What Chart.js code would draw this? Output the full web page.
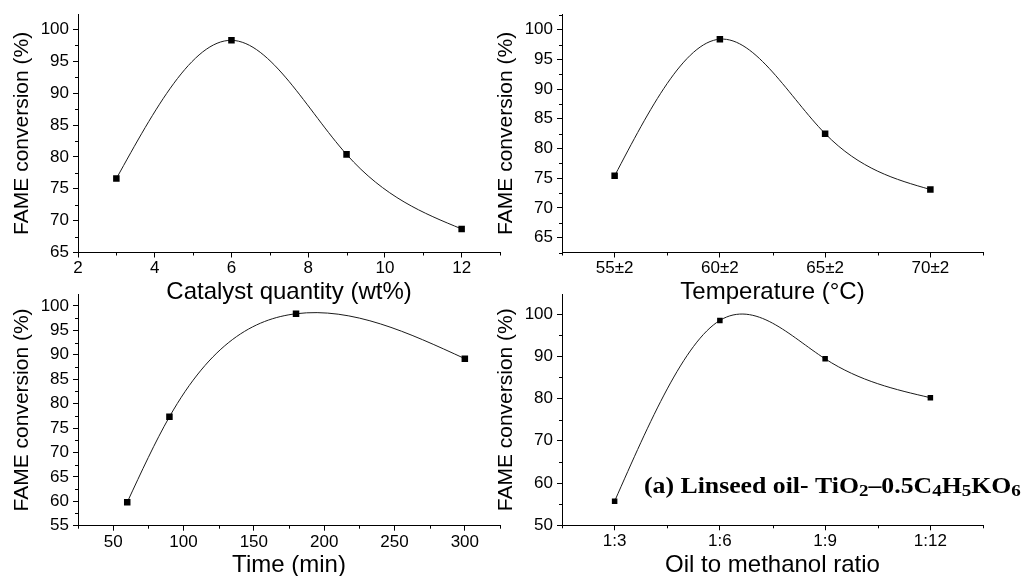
<!DOCTYPE html>
<html>
<head>
<meta charset="utf-8">
<script src="https://cdn.jsdelivr.net/npm/chart.js@4.4.1/dist/chart.umd.min.js"></script>
<style>
  body { margin: 0; background: #fff; }
  #wrap { position: relative; width: 1022px; height: 576px; overflow: hidden; }
  canvas { position: absolute; }
</style>
</head>
<body>
<div id="wrap">
  <canvas id="catalystChart" width="511" height="310" style="left:0;top:0"></canvas>
  <canvas id="tempChart" width="532" height="310" style="left:490px;top:0"></canvas>
  <canvas id="timeChart" width="511" height="296" style="left:0;top:280px"></canvas>
  <canvas id="ratioChart" width="532" height="296" style="left:490px;top:280px"></canvas>
</div>
<script>
// catalyst loading
const catalystQty = [3, 6, 9, 12];
const catalystFame = [76.6, 98.3, 80.4, 68.7];

// reaction temperature
const tempLabels = ["55±2", "60±2", "65±2", "70±2"];
const tempFame = [75.4, 98.4, 82.5, 73.1];

// reaction time
const timeMin = [60, 90, 180, 300];
const timeFame = [59.8, 77.3, 98.4, 89.2];

// oil to methanol molar ratio
const ratioLabels = ["1:3", "1:6", "1:9", "1:12"];
const ratioFame = [55.7, 98.5, 89.4, 80.2];

const yTitle = "FAME conversion (%)";
const sans = "'Liberation Sans', Arial, sans-serif";

// short outward ticks between the labelled ones
const minorTicks = {
  id: "minorTicks",
  afterDraw(chart, args, opts) {
    const ctx = chart.ctx;
    const area = chart.chartArea;
    ctx.save();
    ctx.strokeStyle = "#000";
    ctx.lineWidth = 1;
    ctx.beginPath();
    ["x", "y"].forEach(function (id) {
      const scale = chart.scales[id];
      const step = opts[id];
      if (!step) return;
      const majors = scale.ticks.map((t) => t.value);
      for (let v = Math.ceil(scale.min / step - 1e-9) * step; v <= scale.max + 1e-9; v += step) {
        if (majors.some((m) => Math.abs(m - v) < 1e-6)) continue;
        const p = Math.round(scale.getPixelForValue(v)) + 0.5;
        if (id === "x") {
          ctx.moveTo(p, area.bottom);
          ctx.lineTo(p, area.bottom + 3);
        } else {
          ctx.moveTo(area.left, p);
          ctx.lineTo(area.left - 3, p);
        }
      }
    });
    ctx.stroke();
    ctx.restore();
  },
};

// replace the default bezier handles with a natural cubic spline through the points
const naturalSpline = {
  id: "naturalSpline",
  beforeDatasetDraw(chart, args) {
    const line = args.meta.dataset;
    const pts = args.meta.data;
    if (!line || pts.length < 3) return;
    line.updateControlPoints(chart.chartArea, "x");
    const n = pts.length;
    const x = pts.map((p) => p.x);
    const y = pts.map((p) => p.y);
    const h = [], s = [];
    for (let i = 0; i < n - 1; i++) {
      h[i] = x[i + 1] - x[i];
      s[i] = (y[i + 1] - y[i]) / h[i];
    }
    const M = new Array(n).fill(0);
    const a = [], b = [], c = [], d = [];
    for (let i = 1; i < n - 1; i++) {
      a[i] = h[i - 1];
      b[i] = 2 * (h[i - 1] + h[i]);
      c[i] = h[i];
      d[i] = 6 * (s[i] - s[i - 1]);
    }
    for (let i = 2; i < n - 1; i++) {
      const w = a[i] / b[i - 1];
      b[i] -= w * c[i - 1];
      d[i] -= w * d[i - 1];
    }
    for (let i = n - 2; i >= 1; i--) {
      M[i] = (d[i] - c[i] * M[i + 1]) / b[i];
    }
    const m = [];
    for (let i = 0; i < n - 1; i++) m[i] = s[i] - (h[i] * (2 * M[i] + M[i + 1])) / 6;
    m[n - 1] = s[n - 2] + (h[n - 2] * (M[n - 2] + 2 * M[n - 1])) / 6;
    pts.forEach(function (p, i) {
      if (i > 0) {
        p.cp1x = x[i] - h[i - 1] / 3;
        p.cp1y = y[i] - (m[i] * h[i - 1]) / 3;
      }
      if (i < n - 1) {
        p.cp2x = x[i] + h[i] / 3;
        p.cp2y = y[i] + (m[i] * h[i]) / 3;
      }
    });
    line._path = undefined;
  },
};

// sample label with sub-scripted formula
const formulaLabel = {
  id: "formulaLabel",
  afterDraw(chart) {
    const ctx = chart.ctx;
    const parts = [
      ["(a) Linseed oil- TiO", false], ["2", true], ["–0.5C", false], ["4", true],
      ["H", false], ["5", true], ["KO", false], ["6", true],
    ];
    ctx.save();
    ctx.translate(154, 213);
    ctx.scale(1.12, 1);
    ctx.fillStyle = "#000";
    ctx.textBaseline = "alphabetic";
    let x = 0;
    parts.forEach(function (p) {
      ctx.font = p[1] ? "bold 17px 'Liberation Serif', serif" : "bold 23px 'Liberation Serif', serif";
      ctx.fillText(p[0], x, p[1] ? 2.5 : 0);
      x += ctx.measureText(p[0]).width;
    });
    ctx.restore();
  },
};

function axis(o) {
  const ax = {
    type: "linear",
    min: o.min,
    max: o.max,
    border: { color: "#000", width: 1 },
    grid: { drawOnChartArea: false, drawTicks: true, tickLength: 5, tickColor: "#000", tickWidth: 1 },
    ticks: {
      autoSkip: false,
      maxRotation: 0,
      padding: o.pad,
      color: "#000",
      font: { family: sans, size: 17 },
    },
    title: {
      display: true,
      text: o.title,
      color: "#000",
      font: { family: sans, size: o.titleSize, lineHeight: 1 },
      padding: { top: o.titleAt - o.titleSize / 2, bottom: o.titleAt - o.titleSize / 2 },
    },
    // labelled ticks on whole multiples of the step only
    afterBuildTicks: (sc) => {
      const ticks = [];
      for (let v = Math.ceil(o.min / o.step - 1e-9) * o.step; v <= o.max + 1e-9; v += o.step) {
        ticks.push({ value: +v.toFixed(6) });
      }
      sc.ticks = ticks;
    },
    afterFit: o.fit,
  };
  if (o.labels) {
    ax.ticks.callback = (v) => (o.labels[v] !== undefined ? o.labels[v] : "");
  }
  return ax;
}

function buildChart(id, s) {
  const points = s.xs.map((x, i) => ({ x: x, y: s.ys[i] }));
  return new Chart(document.getElementById(id), {
    type: "scatter",
    data: {
      datasets: [{
        data: points,
        showLine: true,
        tension: 0.4,
        borderColor: "#1a1a1a",
        borderWidth: 1,
        pointStyle: "rect",
        pointRadius: s.marker,
        pointBackgroundColor: "#000",
        pointBorderWidth: 0,
      }],
    },
    options: {
      responsive: false,
      animation: false,
      events: [],
      layout: { padding: { top: s.top, right: s.right, bottom: 0, left: 0 } },
      plugins: {
        legend: { display: false },
        tooltip: { enabled: false },
        minorTicks: { x: s.x.minor, y: s.y.minor },
      },
      scales: {
        x: axis(Object.assign({ pad: 1, titleSize: 24, fit: (sc) => { sc.height = s.xHeight; } }, s.x)),
        y: axis(Object.assign({ pad: 4, titleSize: 21, title: yTitle, fit: (sc) => { sc.width = s.yWidth; } }, s.y)),
      },
    },
    plugins: s.extra ? [naturalSpline, minorTicks, s.extra] : [naturalSpline, minorTicks],
  });
}

buildChart("catalystChart", {
  xs: catalystQty, ys: catalystFame, marker: 4.6,
  top: 14, right: 11, yWidth: 78, xHeight: 57.5,
  x: { min: 2, max: 13, step: 2, minor: 1, title: "Catalyst quantity (wt%)", titleAt: 18 },
  y: { min: 65, max: 102.4, step: 5, minor: 2.5, titleAt: 22 },
});

buildChart("tempChart", {
  xs: [0, 1, 2, 3], ys: tempFame, marker: 4.6,
  top: 14, right: 39, yWidth: 72, xHeight: 57.5,
  x: { min: -0.5, max: 3.5, step: 1, minor: 0.5, labels: tempLabels, title: "Temperature (°C)", titleAt: 18 },
  y: { min: 62.5, max: 102.6, step: 5, minor: 2.5, titleAt: 16 },
});

buildChart("timeChart", {
  xs: timeMin, ys: timeFame, marker: 4.6,
  top: 7.3, right: 11, yWidth: 78, xHeight: 50.3,
  x: { min: 25, max: 325, step: 50, minor: 25, title: "Time (min)", titleAt: 11 },
  y: { min: 55, max: 102.4, step: 5, minor: 2.5, titleAt: 22 },
});

buildChart("ratioChart", {
  xs: [0, 1, 2, 3], ys: ratioFame, marker: 3.9,
  top: 7.3, right: 39, yWidth: 72, xHeight: 50.7,
  x: { min: -0.5, max: 3.5, step: 1, minor: 0.5, labels: ratioLabels, title: "Oil to methanol ratio", titleAt: 11 },
  y: { min: 50, max: 104.7, step: 10, minor: 5, titleAt: 16 },
  extra: formulaLabel,
});
</script>
</body>
</html>
